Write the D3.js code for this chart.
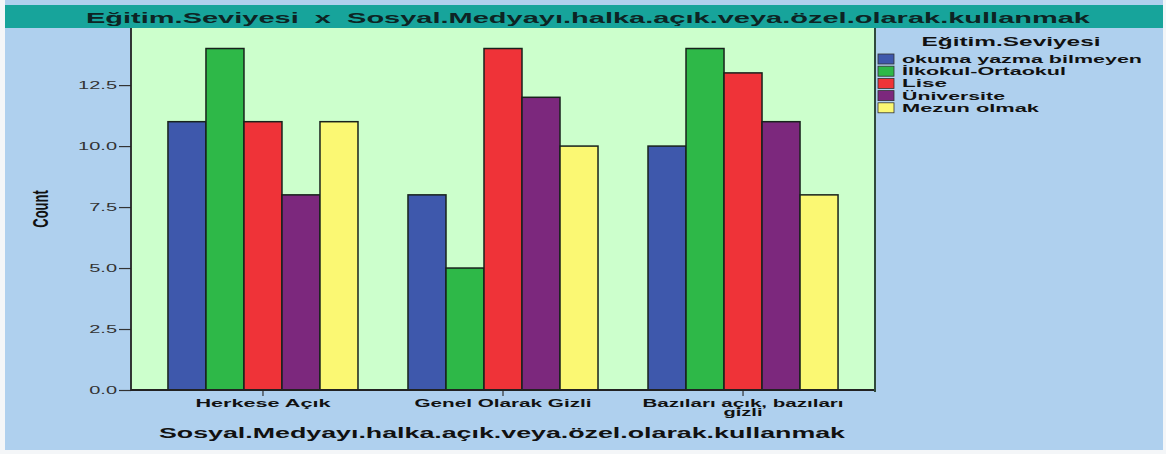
<!DOCTYPE html>
<html>
<head>
<meta charset="utf-8">
<script src="https://cdn.jsdelivr.net/npm/d3@7"></script>
<style>
  html, body { margin: 0; padding: 0; background: #f4f6f8; }
  svg { display: block; }
  text { font-family: Arial, "Liberation Sans", sans-serif; white-space: pre; }
</style>
</head>
<body>
<div id="chart"></div>
<script>
// ---- data ----
const categories = ["Herkese Açık", "Genel Olarak Gizli", "Bazıları açık, bazıları gizli"];
const categoryLabelLines = [["Herkese Açık"], ["Genel Olarak Gizli"], ["Bazıları açık, bazıları", "gizli"]];
const seriesNames = ["okuma yazma bilmeyen", "İlkokul-Ortaokul", "Lise", "Üniversite", "Mezun olmak"];
const okumaYazmaBilmeyen = [11, 8, 10];
const ilkokulOrtaokul = [14, 5, 14];
const lise = [11, 14, 13];
const universite = [8, 12, 11];
const mezunOlmak = [11, 10, 8];
const seriesValues = [okumaYazmaBilmeyen, ilkokulOrtaokul, lise, universite, mezunOlmak];
const seriesColors = ["#3e58ac", "#2eb848", "#ef3338", "#7c287d", "#fbf873"];
const yTicks = [0, 2.5, 5, 7.5, 10, 12.5];
const chartTitle = "Eğitim.Seviyesi  x  Sosyal.Medyayı.halka.açık.veya.özel.olarak.kullanmak";
const xTitle = "Sosyal.Medyayı.halka.açık.veya.özel.olarak.kullanmak";
const yTitle = "Count";
const legendTitle = "Eğitim.Seviyesi";

// ---- layout ----
const W = 1166, H = 454;
const plot = { left: 131, right: 875, top: 28, bottom: 390 };
const SX = 2.0; // horizontal stretch of text in the reference

const svg = d3.select("#chart").append("svg").attr("width", W).attr("height", H);

// backgrounds
svg.append("rect").attr("x", 5).attr("y", 0).attr("width", 1158).attr("height", 450).attr("fill", "#afd0ee");
svg.append("rect").attr("x", 5).attr("y", 5).attr("width", 1158).attr("height", 23).attr("fill", "#17a49b");
svg.append("rect").attr("x", plot.left).attr("y", plot.top).attr("width", plot.right - plot.left)
  .attr("height", plot.bottom - plot.top).attr("fill", "#ccffcc");

// scales
const x0 = d3.scaleBand().domain(categories).range([plot.left, plot.right])
  .paddingInner(0.2083).paddingOuter(0.154);
const x1 = d3.scaleBand().domain(seriesNames).range([0, x0.bandwidth()]);
const y = d3.scaleLinear().domain([0, 14.8]).range([plot.bottom, plot.top + 1]);

// bars
const data = [];
categories.forEach((c, ci) => seriesNames.forEach((s, si) => data.push({ c, s, si, v: seriesValues[si][ci] })));
svg.append("g").selectAll("rect").data(data).join("rect")
  .attr("x", d => x0(d.c) + x1(d.s))
  .attr("y", d => y(d.v))
  .attr("width", x1.bandwidth())
  .attr("height", d => y(0) - y(d.v))
  .attr("fill", d => seriesColors[d.si])
  .attr("stroke", "#18221c")
  .attr("stroke-width", 1.5);

// axes
const yAxis = svg.append("g").attr("transform", `translate(${plot.left},0)`)
  .call(d3.axisLeft(y).tickValues(yTicks).tickSize(12).tickFormat(d3.format(".1f")));
yAxis.select(".domain").remove();
yAxis.selectAll(".tick line").attr("stroke", "#333").attr("stroke-width", 1.2);
yAxis.selectAll(".tick text").remove();
yAxis.selectAll(".tick").append("text")
  .attr("transform", `translate(-14,3.5) scale(${SX},1)`)
  .attr("text-anchor", "end").attr("font-size", 10).attr("fill", "#333")
  .text(d => d3.format(".1f")(d));

const xAxis = svg.append("g").attr("transform", `translate(0,${plot.bottom})`)
  .call(d3.axisBottom(x0).tickSize(6).tickFormat(""));
xAxis.select(".domain").remove();
xAxis.selectAll(".tick line").attr("stroke", "#333").attr("stroke-width", 1.2);
const xLabelWidths = [[135], [177], [201, 39]];
xAxis.selectAll(".tick").each(function (d, i) {
  const g = d3.select(this);
  categoryLabelLines[i].forEach((line, li) => {
    g.append("text")
      .attr("x", 0).attr("y", 17 + li * 9)
      .attr("text-anchor", "middle").attr("font-size", 10).attr("font-weight", "bold").attr("fill", "#111")
      .attr("textLength", xLabelWidths[i][li]).attr("lengthAdjust", "spacingAndGlyphs")
      .text(line);
  });
});

// frame lines
svg.append("line").attr("x1", plot.left).attr("x2", plot.left).attr("y1", plot.top).attr("y2", plot.bottom + 1)
  .attr("stroke", "#222").attr("stroke-width", 1.8);
svg.append("line").attr("x1", plot.left).attr("x2", plot.right + 1).attr("y1", plot.bottom).attr("y2", plot.bottom)
  .attr("stroke", "#222").attr("stroke-width", 1.8);
svg.append("line").attr("x1", plot.right).attr("x2", plot.right).attr("y1", plot.top).attr("y2", plot.bottom + 2)
  .attr("stroke", "#2f4a3c").attr("stroke-width", 2);

// titles
svg.append("text").attr("x", 588).attr("y", 23).attr("text-anchor", "middle")
  .attr("font-size", 15).attr("font-weight", "bold").attr("fill", "#0d2424")
  .attr("textLength", 1004).attr("lengthAdjust", "spacingAndGlyphs").text(chartTitle);
svg.append("text").attr("x", 502).attr("y", 438).attr("text-anchor", "middle")
  .attr("font-size", 14).attr("font-weight", "bold").attr("fill", "#111")
  .attr("textLength", 686).attr("lengthAdjust", "spacingAndGlyphs").text(xTitle);
svg.append("text").attr("transform", `translate(48,209) scale(1.65,1) rotate(-90)`)
  .attr("text-anchor", "middle").attr("font-size", 13).attr("font-weight", "bold").attr("fill", "#111")
  .text(yTitle);

// legend
const legend = svg.append("g");
legend.append("text").attr("x", 1011).attr("y", 46).attr("text-anchor", "middle")
  .attr("font-size", 13).attr("font-weight", "bold").attr("fill", "#111")
  .attr("textLength", 179).attr("lengthAdjust", "spacingAndGlyphs").text(legendTitle);
const legendWidths = [240, 164, 45, 103, 137];
const li = legend.selectAll("g.item").data(seriesNames).join("g").attr("class", "item")
  .attr("transform", (d, i) => `translate(878,${59 + i * 12.2})`);
li.append("rect").attr("x", 0).attr("y", -5).attr("width", 16).attr("height", 10)
  .attr("fill", (d, i) => seriesColors[i]).attr("stroke", "#333").attr("stroke-width", 0.8);
li.append("text").attr("x", 24).attr("y", 4).attr("font-size", 11).attr("font-weight", "bold").attr("fill", "#111")
  .attr("textLength", (d, i) => legendWidths[i]).attr("lengthAdjust", "spacingAndGlyphs")
  .text(d => d);
</script>
</body>
</html>
